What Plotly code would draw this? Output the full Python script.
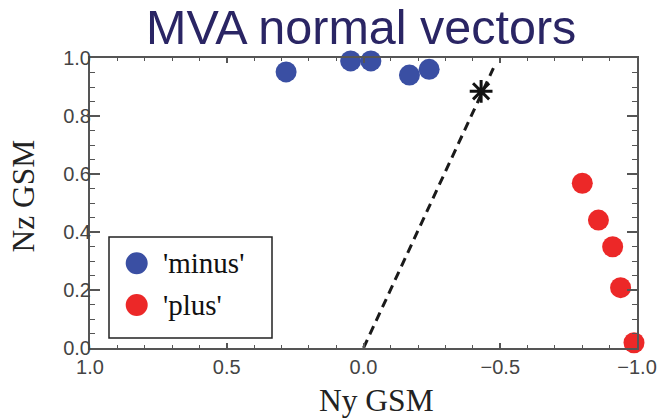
import plotly.graph_objects as go

# MVA normal vector components (GSM)
minus_ny = [0.283, 0.047, -0.027, -0.168, -0.240]
minus_nz = [0.952, 0.990, 0.990, 0.941, 0.961]

plus_ny = [-0.800, -0.859, -0.911, -0.940, -0.989]
plus_nz = [0.568, 0.441, 0.349, 0.208, 0.018]

# Average normal and the reference direction line through the origin
star_ny = [-0.430]
star_nz = [0.885]
line_ny = [0.0, -0.475]
line_nz = [0.0, 0.965]

legend_labels = ["'minus'", "'plus'"]
title_text = "MVA normal vectors"
x_title = "Ny GSM"
y_title = "Nz GSM"

BLUE = "rgb(58,79,163)"
RED = "rgb(236,40,40)"
NAVY = "rgb(42,37,100)"
FRAME = "#555555"

W, H = 659, 420
L, R, T, B = 90, 22, 58, 72
pw, ph = W - L - R, H - T - B


def px_x(p):
    return (p - L) / pw


def px_y(p):
    return (H - B - p) / ph


fig = go.Figure()

fig.add_trace(go.Scatter(
    x=line_ny, y=line_nz, mode="lines",
    line=dict(color="#1a1a1a", width=3, dash="9px,6px"),
    showlegend=False, hoverinfo="skip",
))
fig.add_trace(go.Scatter(
    x=minus_ny, y=minus_nz, mode="markers", name=legend_labels[0],
    marker=dict(color=BLUE, size=21, line=dict(width=0)),
    cliponaxis=False, showlegend=False,
))
fig.add_trace(go.Scatter(
    x=plus_ny, y=plus_nz, mode="markers", name=legend_labels[1],
    marker=dict(color=RED, size=21, line=dict(width=0)),
    cliponaxis=False, showlegend=False,
))
fig.add_trace(go.Scatter(
    x=star_ny, y=star_nz, mode="markers",
    marker=dict(symbol="asterisk-open", size=19, color="#111111",
                line=dict(color="#111111", width=3)),
    cliponaxis=False, showlegend=False,
))

tick_font = dict(family="Liberation Sans, Arial, sans-serif", size=20, color="#444444")
serif = "Liberation Serif, Times New Roman, serif"

fig.update_xaxes(
    range=[1, -1], tickvals=[1, 0.5, 0, -0.5, -1], tickformat=".1f",
    ticks="inside", ticklen=5, tickwidth=1.5, tickcolor=FRAME,
    minor=dict(dtick=0.1, ticks="inside", ticklen=3, tickwidth=1.2, tickcolor=FRAME),
    showline=True, linecolor=FRAME, linewidth=2, mirror="allticks",
    showgrid=False, zeroline=False, tickfont=tick_font, ticklabelstandoff=0,
    automargin=False,
)
fig.update_yaxes(
    range=[0, 1], tickvals=[0, 0.2, 0.4, 0.6, 0.8, 1.0], tickformat=".1f",
    ticks="inside", ticklen=10, tickwidth=1.5, tickcolor=FRAME,
    minor=dict(dtick=0.05, ticks="inside", ticklen=5, tickwidth=1.2, tickcolor=FRAME),
    showline=True, linecolor=FRAME, linewidth=2, mirror="allticks",
    showgrid=False, zeroline=False, tickfont=tick_font, ticklabelstandoff=-7,
    automargin=False,
)

# Legend panel
fig.add_shape(type="rect", xref="paper", yref="paper",
              x0=px_x(109), x1=px_x(272), y0=px_y(338), y1=px_y(237),
              line=dict(color="#222222", width=1.5), fillcolor="white", layer="above")
for yy, col, lab in [(263.3, BLUE, legend_labels[0]), (305, RED, legend_labels[1])]:
    fig.add_shape(type="circle", xref="paper", yref="paper",
                  xsizemode="pixel", ysizemode="pixel",
                  xanchor=px_x(136.7), yanchor=px_y(yy),
                  x0=-11, x1=11, y0=-11, y1=11,
                  line=dict(width=0), fillcolor=col, layer="above")
    fig.add_annotation(x=px_x(161), y=px_y(yy), xref="paper", yref="paper",
                       xanchor="left", yanchor="middle", showarrow=False,
                       text=lab, font=dict(family=serif, size=29, color="#111111"))

# Axis titles
fig.add_annotation(x=px_x(376.5), y=px_y(400), xref="paper", yref="paper",
                   xanchor="center", yanchor="middle", showarrow=False,
                   text=x_title, font=dict(family=serif, size=31.5, color="#222222"))
fig.add_annotation(x=px_x(22.5), y=px_y(196), xref="paper", yref="paper",
                   xanchor="center", yanchor="middle", showarrow=False, textangle=-90,
                   text=y_title, font=dict(family=serif, size=31.5, color="#222222"))

# Title
fig.add_annotation(x=px_x(361), y=px_y(27), xref="paper", yref="paper",
                   xanchor="center", yanchor="middle", showarrow=False,
                   text=title_text,
                   font=dict(family="Liberation Sans, Arial, sans-serif", size=48.5, color=NAVY))

fig.update_layout(
    width=W, height=H,
    margin=dict(l=L, r=R, t=T, b=B, autoexpand=False),
    paper_bgcolor="white", plot_bgcolor="white",
    showlegend=False,
)

fig.write_html("out.html")
